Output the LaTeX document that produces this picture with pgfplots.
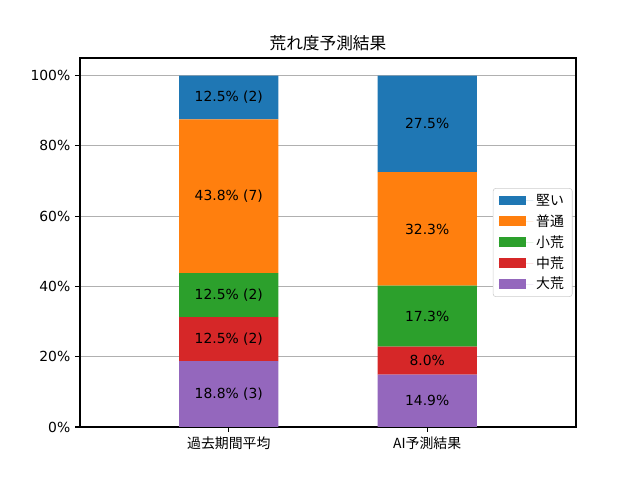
\documentclass[border=0pt]{standalone}
\usepackage{pgfplots}
\pgfplotsset{compat=1.18}
\usepackage{fontspec}
\setmainfont{DejaVu Sans}
\newfontfamily\cjk{Noto Sans CJK JP}
\definecolor{tabblue}{HTML}{1F77B4}
\definecolor{taborange}{HTML}{FF7F0E}
\definecolor{tabgreen}{HTML}{2CA02C}
\definecolor{tabred}{HTML}{D62728}
\definecolor{tabpurple}{HTML}{9467BD}
\begin{document}
\begin{tikzpicture}
\pgfplotsset{
  myaxis/.style={
    scale only axis, width=357.12pt, height=265.68pt,
    xmin=-0.75, xmax=1.75, ymin=0, ymax=105,
  }
}
\begin{axis}[myaxis, name=main,
  ybar stacked, bar width=0.5,
  axis line style={line width=0.8pt},
  tick pos=left, tick align=outside, major tick length=3.5pt,
  tick style={line width=0.8pt, black},
  xtick={0,1}, xticklabels={{\cjk 過去期間平均},{\cjk AI予測結果}},
  ytick={0,20,40,60,80,100},
  yticklabels={0\%,20\%,40\%,60\%,80\%,100\%},
  ticklabel style={font=\fontsize{10}{12}\selectfont},
  ymajorgrids, grid style={line width=0.8pt, color=black!31},
  title={\cjk 荒れ度予測結果},
  title style={at={(0.5,1)}, anchor=base, yshift=0pt, inner sep=0pt, font=\fontsize{12}{14}\selectfont},
  reverse legend,
  legend style={at={(0.993,0.5)}, anchor=east, draw=black!20, rounded corners=2pt,
    font=\cjk\fontsize{10}{12}\selectfont, row sep=1.2pt, inner xsep=4pt, inner ysep=2pt,
    cells={anchor=west}},
  legend image code/.code={\fill[#1, sharp corners] (0pt,-3.5pt) rectangle (20pt,3.5pt);
     \path (0pt,0pt) -- (25pt,0pt);},
]
\addplot[fill=tabpurple, draw=none] coordinates {(0,18.75) (1,14.9)};
\addlegendentry{大荒}
\addplot[fill=tabred, draw=none] coordinates {(0,12.5) (1,8.0)};
\addlegendentry{中荒}
\addplot[fill=tabgreen, draw=none] coordinates {(0,12.5) (1,17.3)};
\addlegendentry{小荒}
\addplot[fill=taborange, draw=none] coordinates {(0,43.75) (1,32.3)};
\addlegendentry{普通}
\addplot[fill=tabblue, draw=none] coordinates {(0,12.5) (1,27.5)};
\addlegendentry{堅い}
\end{axis}
\begin{axis}[myaxis, hide axis]
\addplot[draw=none, mark=none, nodes near coords, point meta=explicit symbolic,
  every node near coord/.append style={anchor=center, font=\fontsize{10}{12}\selectfont, text=black}]
  table[meta=label, col sep=comma] {
x,y,label
0,9.375,18.8\% (3)
0,25,12.5\% (2)
0,37.5,12.5\% (2)
0,65.625,43.8\% (7)
0,93.75,12.5\% (2)
1,7.45,14.9\%
1,18.9,8.0\%
1,31.55,17.3\%
1,56.35,32.3\%
1,86.25,27.5\%
};
\end{axis}
\useasboundingbox (main.south west) ++(-57.6pt,-38.16pt) rectangle ++(460.8pt,345.6pt);
\end{tikzpicture}
\end{document}
